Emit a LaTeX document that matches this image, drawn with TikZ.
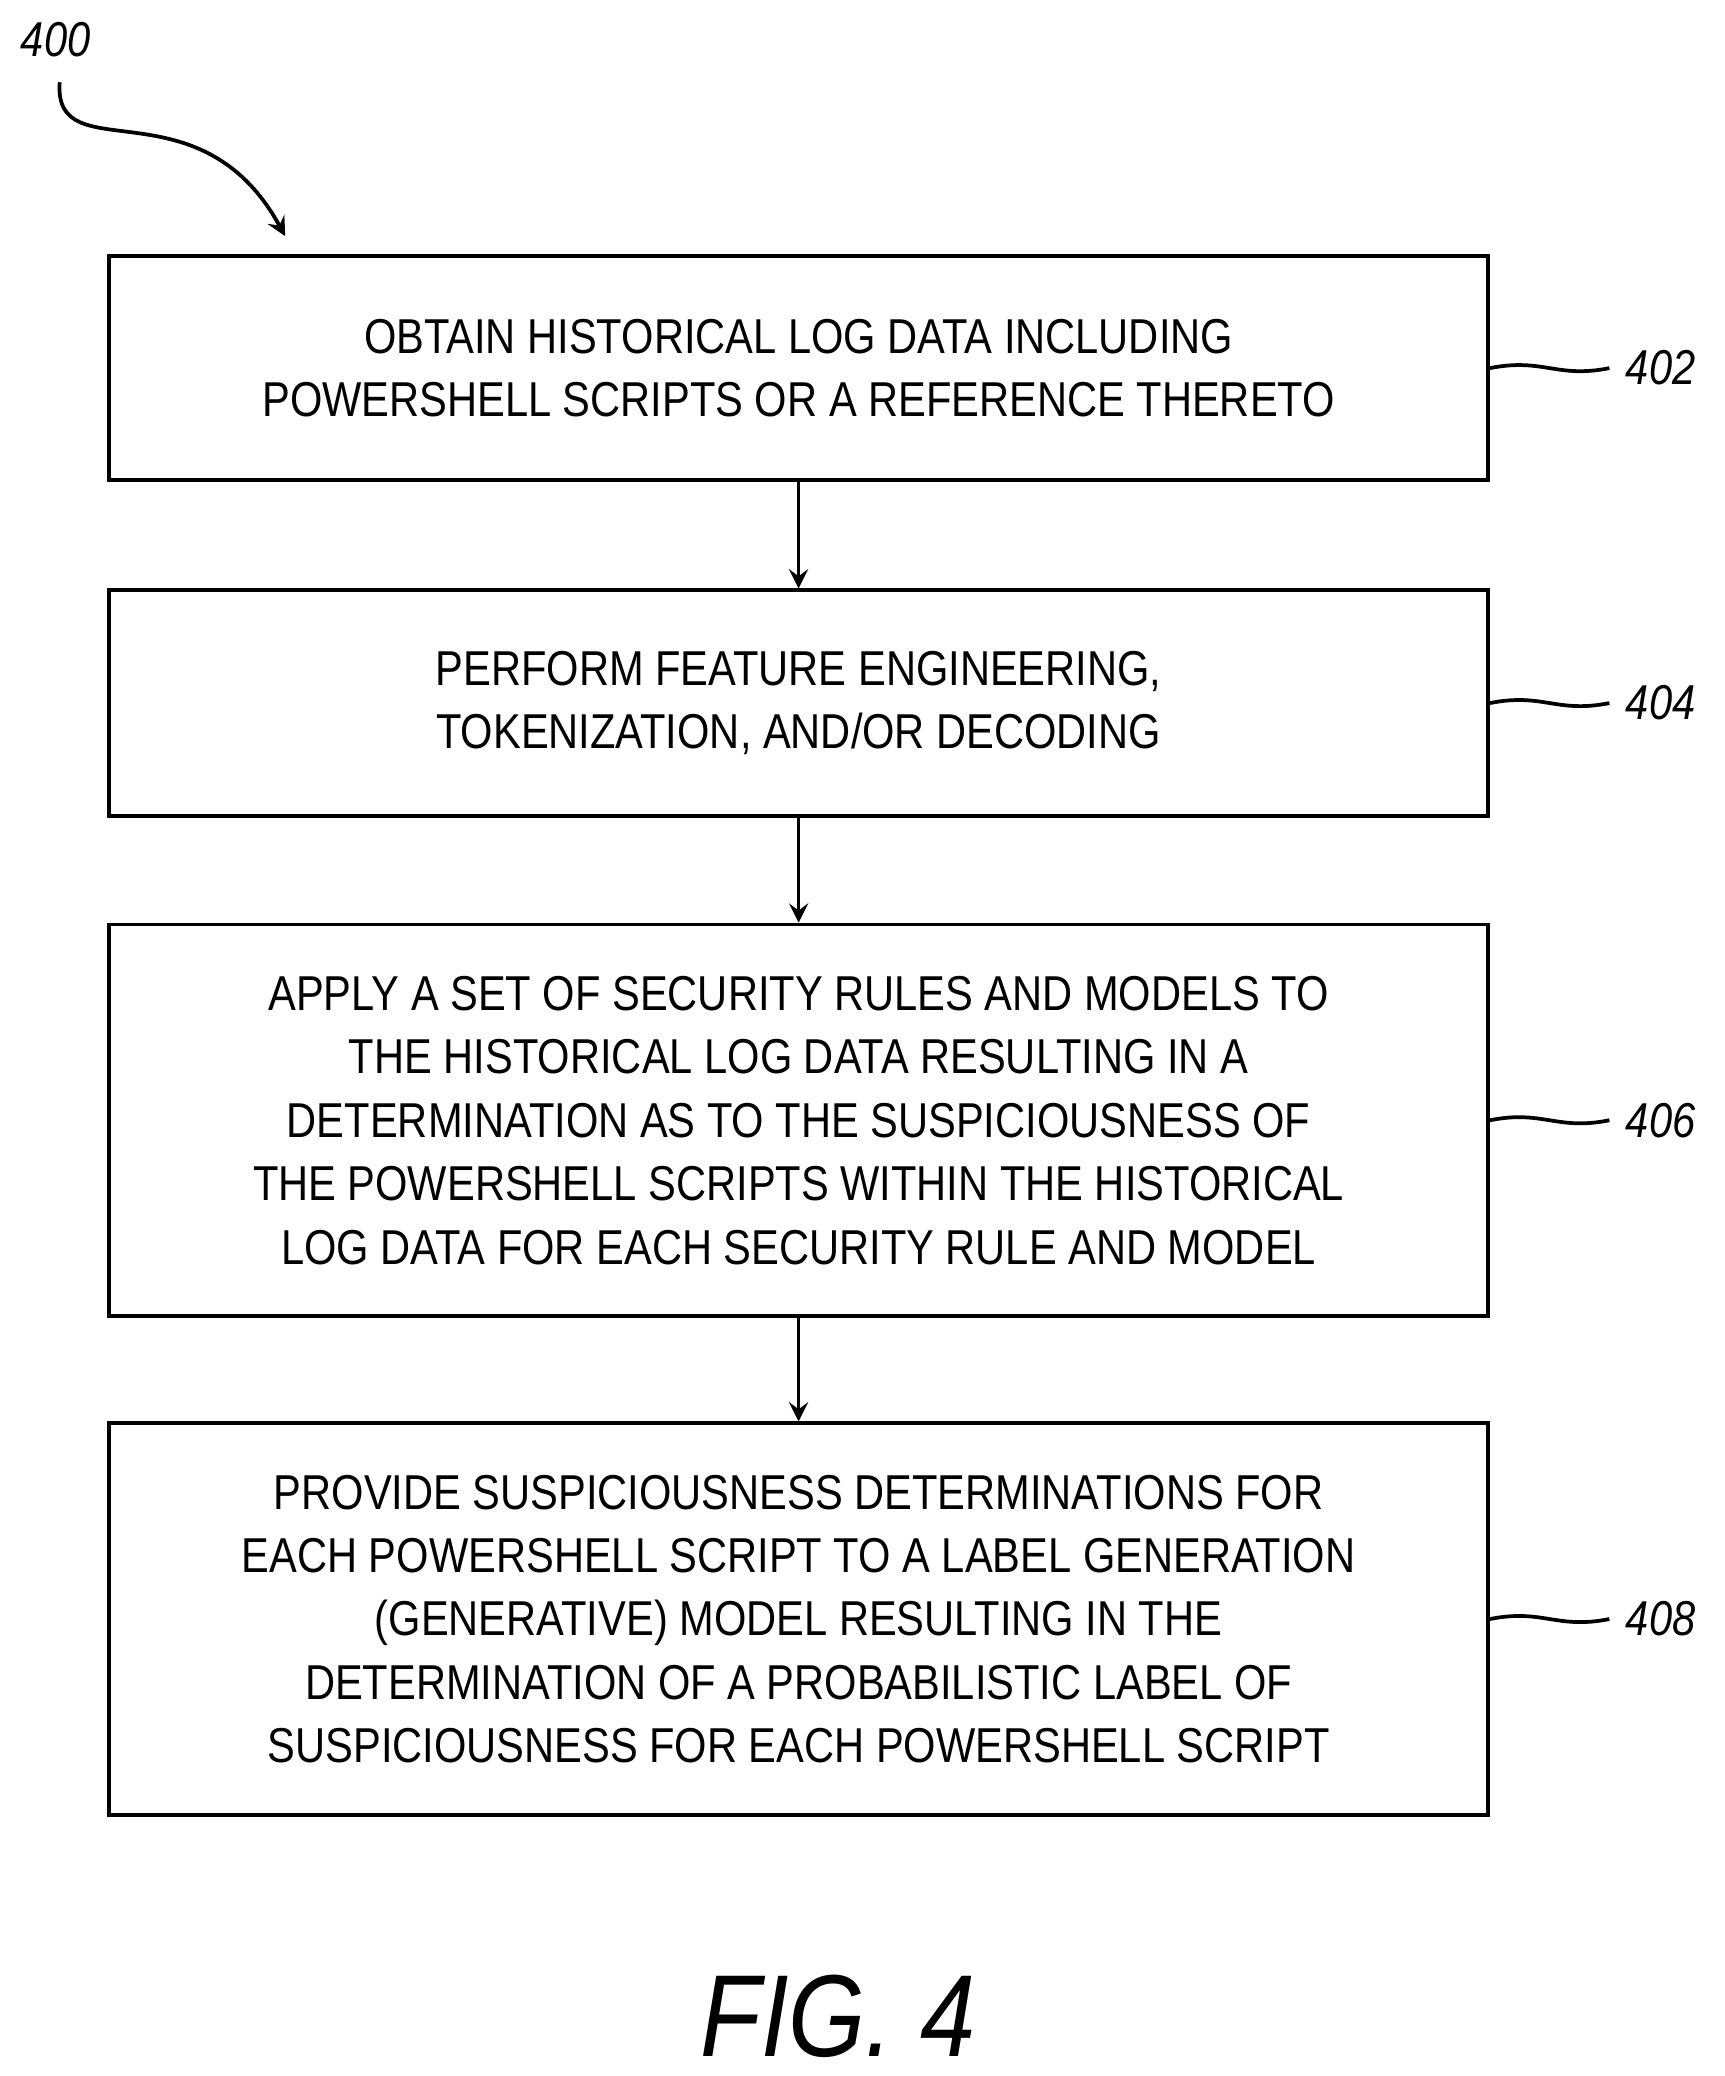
\documentclass[tikz,border=0pt]{standalone}
\usepackage{fontspec}
\setmainfont{Liberation Sans}
\newfontfamily\narrowfont[FakeStretch=0.85]{Liberation Sans}
\usetikzlibrary{positioning}
\tikzset{stepbox/.style = {
  draw, thick, minimum width=10.39cm, align=center,
  font=\narrowfont\fontsize{10.5}{13.6}\selectfont
  }}
\tikzset{flow/.style = {->, >=stealth, thick}}
\tikzset{refnum/.style = {font=\narrowfont\itshape\fontsize{10.5}{12}\selectfont}}
\tikzset{squig/.style = {thick}}
\begin{document}
\begin{tikzpicture}[x=0.01cm, y=0.01cm]
  \useasboundingbox (0,0) rectangle (1300,-1565);

  % steps
  \node[stepbox, minimum height=1.69cm] (s402) at (602,-277.5)
    {OBTAIN HISTORICAL LOG DATA INCLUDING\\POWERSHELL SCRIPTS OR A REFERENCE THERETO};
  \node[stepbox, minimum height=1.70cm] (s404) at (602,-530)
    {PERFORM FEATURE ENGINEERING,\\TOKENIZATION, AND/OR DECODING};
  \node[stepbox, minimum height=2.95cm] (s406) at (602,-844.5)
    {APPLY A SET OF SECURITY RULES AND MODELS TO\\THE HISTORICAL LOG DATA RESULTING IN A\\DETERMINATION AS TO THE SUSPICIOUSNESS OF\\THE POWERSHELL SCRIPTS WITHIN THE HISTORICAL\\LOG DATA FOR EACH SECURITY RULE AND MODEL};
  \node[stepbox, minimum height=2.95cm] (s408) at (602,-1220.5)
    {PROVIDE SUSPICIOUSNESS DETERMINATIONS FOR\\EACH POWERSHELL SCRIPT TO A LABEL GENERATION\\(GENERATIVE) MODEL RESULTING IN THE\\DETERMINATION OF A PROBABILISTIC LABEL OF\\SUSPICIOUSNESS FOR EACH POWERSHELL SCRIPT};

  % connectors
  \draw[flow] (s402) -- (s404);
  \draw[flow] (s404) -- (s406);
  \draw[flow] (s406) -- (s408);

  % reference numerals
  \foreach \s/\n in {s402/402, s404/404, s406/406, s408/408} {
    \node[refnum, right=0.9cm of \s.east] (r\n) {\n};
    \draw[squig] (\s.east) .. controls +(40,8) and +(-40,-8) .. (r\n.west);
  }

  % figure number
  \node[refnum] (r400) at (42,-30) {400};
  \coordinate (start) at (45,-62);
  \draw[flow] (start) .. controls (40,-130) and (150,-60) .. (215,-178);

  \node[font=\narrowfont\itshape\fontsize{25}{30}\selectfont] (fig) at (632,-1520) {FIG. 4};
\end{tikzpicture}
\end{document}
